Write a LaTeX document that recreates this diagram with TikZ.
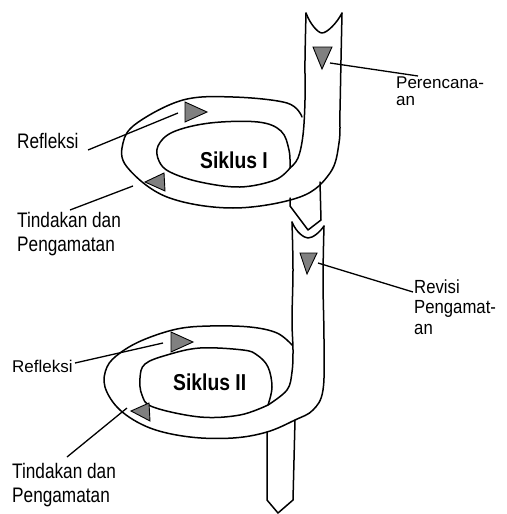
\documentclass[tikz,border=0pt]{standalone}
\usepackage{fontspec}
\setmainfont{Liberation Sans}
\newfontfamily\narrowf{Liberation Sans}[FakeStretch=0.82]
\newfontfamily\midf{Liberation Sans}[FakeStretch=0.88]
\newfontfamily\sikf{Liberation Sans}[FakeStretch=0.84]
\begin{document}
\begin{tikzpicture}[x=1pt,y=-1pt,
  rib/.style={line width=1.5pt,line join=round,line cap=round},
  lbl/.style={line width=1.3pt},
  tri/.style={fill=black!50,draw=black,line width=0.9pt,line join=miter},
  tall/.style={inner sep=0pt,anchor=base west,font=\narrowf\fontsize{21}{24}\selectfont,align=left},
  small/.style={inner sep=0pt,anchor=base west,font=\fontsize{17}{17}\selectfont,align=left},
  sik/.style={inner sep=0pt,anchor=base west,font=\sikf\bfseries\fontsize{23}{26}\selectfont}]
\useasboundingbox (0,0) rectangle (506,514);
% ---------- ribbon, cycle I ----------
\draw[rib] (306,13) .. controls (310,24) and (318,33) .. (322,33) .. controls (327,33) and (337,23) .. (342,13);
\draw[rib] plot[smooth,tension=0.6] coordinates {(306,13) (305,60) (305,100) (303,135) (298,158) (290,168)};
\draw[rib] plot[smooth,tension=0.6] coordinates {(342,13) (341,60) (340,110) (339,143) (330,173) (300,197) (233,208) (167,197) (127,167) (123,143) (137,123) (183,100) (233,97) (287,103) (302,117)};
\draw[rib] plot[smooth,tension=0.6] coordinates {(290,168) (289,150) (281,131) (258,122) (210,123) (173,132) (158,146) (159,161) (170,172) (200,182) (240,187) (275,180) (290,168)};
\draw[rib] (290,198) -- (290,206) -- (308,230) -- (321,220) -- (320,182);
% ---------- ribbon, cycle II ----------
\draw[rib] (292,222) .. controls (296,232) and (304,238) .. (308,238) .. controls (313,238) and (320,232) .. (324,226);
\draw[rib] plot[smooth,tension=0.6] coordinates {(292,222) (293,270) (292,320) (293,350) (292,372) (287,390) (268,405)};
\draw[rib] plot[smooth,tension=0.6] coordinates {(324,226) (323,280) (324,340) (323,390) (313,410) (295,420) (267,432) (233,438) (190,437) (150,428) (120,410) (105,387) (107,367) (120,353) (143,340) (177,329) (210,326) (250,327) (277,333) (292,345)};
\draw[rib] plot[smooth,tension=0.6] coordinates {(268,405) (272,387) (268,367) (257,355) (243,350) (200,348) (167,355) (145,364) (140,378) (142,395) (153,407) (200,417) (240,415) (268,405)};
\draw[rib] (267,432) -- (267,500) -- (278,513) -- (293,500) -- (295,420);
% ---------- triangles ----------
\draw[tri] (313,47) -- (332,47) -- (322,69) -- cycle;
\draw[tri] (185,102) -- (185,122) -- (207,112) -- cycle;
\draw[tri] (164,173) -- (165,191) -- (145,182) -- cycle;
\draw[tri] (300,253) -- (317,253) -- (307,274) -- cycle;
\draw[tri] (171,332) -- (171,352) -- (193,342) -- cycle;
\draw[tri] (149,403) -- (150,421) -- (131,411) -- cycle;
% ---------- texts (base anchor = baseline of the last line) ----------
\node[sik] (s1) at (200,168) {Siklus I};
\node[sik] (s2) at (173,390) {Siklus II};
\node[small] (per) at (396,105) {Perencana-\\an};
\node[tall] (ref1) at (17,148) {Refleksi};
\node[tall] (tin1) at (17,251) {Tindakan dan\\Pengamatan};
\node[inner sep=0pt,anchor=base west,font=\midf\fontsize{19}{20.5}\selectfont,align=left] (rev) at (414,334) {Revisi\\Pengamat-\\an};
\node[small] (ref2) at (12,372) {Refleksi};
\node[tall] (tin2) at (12,502) {Tindakan dan\\Pengamatan};
% ---------- label lines ----------
\coordinate (p1) at (330,63);   \coordinate (p2) at (418,76);
\coordinate (r1a) at (88,150);  \coordinate (r1b) at (178,113);
\coordinate (t1a) at (70,210);  \coordinate (t1b) at (133,186);
\coordinate (v1) at (318,263);  \coordinate (v2) at (413,292);
\coordinate (r2a) at (75,363);  \coordinate (r2b) at (163,343);
\coordinate (t2a) at (67,457);  \coordinate (t2b) at (127,408);
\draw[lbl] (p1) -- (p2);
\draw[lbl] (r1a) -- (r1b);
\draw[lbl] (t1a) -- (t1b);
\draw[lbl] (v1) -- (v2);
\draw[lbl] (r2a) -- (r2b);
\draw[lbl] (t2a) -- (t2b);
\end{tikzpicture}
\end{document}
